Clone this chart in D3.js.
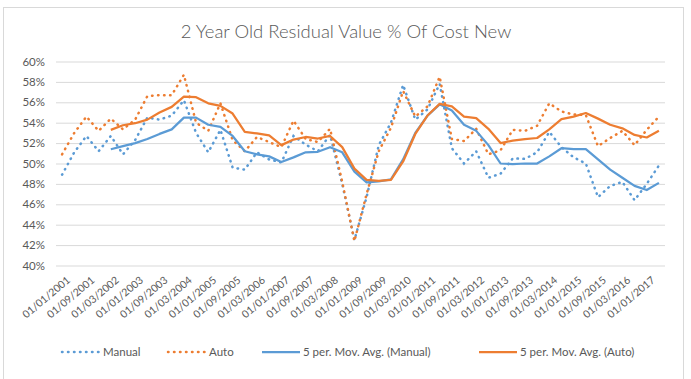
<!DOCTYPE html>
<html>
<head>
<meta charset="utf-8">
<script src="https://cdn.jsdelivr.net/npm/d3@7"></script>
<style>
  body { margin: 0; background: #fff; }
  text { font-family: Lato, "Open Sans", sans-serif; fill: #595959; }
</style>
</head>
<body>
<script>
var w = 691,
    h = 379;

// categories (UK plate change dates: Jan, Mar, Sep)
var dates = [
  "01/01/2001","01/03/2001","01/09/2001","01/01/2002","01/03/2002","01/09/2002",
  "01/01/2003","01/03/2003","01/09/2003","01/01/2004","01/03/2004","01/09/2004",
  "01/01/2005","01/03/2005","01/09/2005","01/01/2006","01/03/2006","01/09/2006",
  "01/01/2007","01/03/2007","01/09/2007","01/01/2008","01/03/2008","01/09/2008",
  "01/01/2009","01/03/2009","01/09/2009","01/01/2010","01/03/2010","01/09/2010",
  "01/01/2011","01/03/2011","01/09/2011","01/01/2012","01/03/2012","01/09/2012",
  "01/01/2013","01/03/2013","01/09/2013","01/01/2014","01/03/2014","01/09/2014",
  "01/01/2015","01/03/2015","01/09/2015","01/01/2016","01/03/2016","01/09/2016",
  "01/01/2017","01/03/2017"
];

var manual = [
  48.9, 51.1, 52.7, 51.2, 52.7, 50.9, 52.3, 54.5, 54.3, 54.7,
  56.2, 53.0, 51.1, 53.3, 49.6, 49.4, 51.1, 50.4, 50.1, 52.7,
  51.85, 51.2, 52.8, 48.0, 42.5, 46.7, 51.8, 54.0, 57.7, 54.3,
  55.3, 57.8, 51.5, 50.0, 51.2, 48.6, 49.0, 50.5, 50.45, 51.1,
  53.1, 51.6, 50.6, 50.0, 46.7, 47.8, 48.2, 46.4, 48.0, 49.8
];

var auto = [
  50.9, 53.0, 54.6, 53.2, 54.4, 53.35, 54.3, 56.6, 56.7, 56.7,
  58.7, 54.0, 53.2, 55.9, 52.3, 51.2, 52.6, 52.1, 51.6, 54.2,
  52.4, 52.1, 53.4, 48.2, 42.4, 47.0, 51.2, 53.5, 57.1, 54.6,
  55.6, 58.5, 52.4, 52.2, 53.4, 50.9, 51.3, 53.3, 53.2, 53.7,
  55.9, 55.1, 54.8, 54.75, 51.7, 52.5, 53.2, 51.8, 53.3, 54.6
];

// 5 period moving average trendlines (start at 5th point)
var avgStart = 4;
var manualAvg = [
  51.4, 51.7, 52.0, 52.4, 52.9, 53.35, 54.5, 54.5, 53.8, 53.6,
  52.7, 51.2, 50.9, 50.7, 50.15, 50.6, 51.1, 51.15, 51.6, 51.1,
  49.2, 48.15, 48.25, 48.45, 50.4, 53.0, 54.7, 55.8, 55.2, 53.8,
  53.2, 51.8, 50.0, 49.95, 50.0, 50.0, 50.7, 51.5, 51.4, 51.4,
  50.4, 49.4, 48.6, 47.8, 47.4, 48.1
];
var autoAvg = [
  53.3, 53.75, 53.95, 54.3, 55.0, 55.55, 56.55, 56.5, 55.9, 55.65,
  54.9, 53.1, 52.95, 52.75, 51.8, 52.35, 52.6, 52.45, 52.7, 51.6,
  49.5, 48.4, 48.3, 48.4, 50.2, 52.9, 54.7, 55.85, 55.6, 54.6,
  54.45, 53.4, 52.0, 52.25, 52.4, 52.5, 53.35, 54.35, 54.6, 54.95,
  54.4, 53.8, 53.45, 52.8, 52.55, 53.2
];

var yTicks = [40, 42, 44, 46, 48, 50, 52, 54, 56, 58, 60];
var blue = "#5B9BD5",
    orange = "#ED7D31";

var svg = d3.select("body").append("svg")
    .attr("width", w)
    .attr("height", h);

// chart area border
svg.append("rect")
    .attr("x", 3.5).attr("y", 7.5)
    .attr("width", 680).attr("height", 380)
    .attr("fill", "#fff")
    .attr("stroke", "#d9d9d9");

svg.append("text")
    .attr("x", 346).attr("y", 38)
    .attr("text-anchor", "middle")
    .style("font-size", "18.5px")
    .style("font-weight", 300)
    .text("2 Year Old Residual Value % Of Cost New");

var x = d3.scalePoint()
    .domain(d3.range(dates.length))
    .range([56, 665])
    .padding(0.5);

var y = d3.scaleLinear()
    .domain([40, 60])
    .range([265.5, 61.5]);

// y axis + gridlines
var yAxis = svg.append("g")
    .attr("transform", "translate(56,0)")
    .call(d3.axisLeft(y)
        .tickValues(yTicks)
        .tickSize(-609)
        .tickPadding(11)
        .tickFormat(d => d + "%"));
yAxis.select(".domain").remove();
yAxis.selectAll("line").attr("stroke", "#d9d9d9");
yAxis.selectAll("text").style("font-size", "11.5px").style("font-family", "Lato, sans-serif").attr("fill", "#595959");

// x axis
var xAxis = svg.append("g")
    .attr("transform", "translate(0,265.5)")
    .call(d3.axisBottom(x)
        .tickValues(d3.range(0, dates.length, 2))
        .tickSize(0)
        .tickFormat(i => dates[i]));
xAxis.select(".domain").remove();
xAxis.selectAll("text")
    .style("font-size", "10.5px")
    .style("font-family", "Lato, sans-serif")
    .attr("fill", "#595959")
    .attr("text-anchor", "end")
    .attr("x", 0).attr("y", 0).attr("dy", "0.35em")
    .attr("transform", "translate(6,13) rotate(-40)");

var line = d3.line()
    .x((d, i) => x(i))
    .y(d => y(d));

var avgLine = d3.line()
    .x((d, i) => x(i + avgStart))
    .y(d => y(d));

svg.append("path").datum(manual)
    .attr("d", line)
    .attr("fill", "none").attr("stroke", blue)
    .attr("stroke-width", 2.5).attr("stroke-linecap", "round")
    .attr("stroke-dasharray", "0.5 5.5");

svg.append("path").datum(auto)
    .attr("d", line)
    .attr("fill", "none").attr("stroke", orange)
    .attr("stroke-width", 2.5).attr("stroke-linecap", "round")
    .attr("stroke-dasharray", "0.5 5.5");

svg.append("path").datum(manualAvg)
    .attr("d", avgLine)
    .attr("fill", "none").attr("stroke", blue)
    .attr("stroke-width", 2.25).attr("stroke-linejoin", "round");

svg.append("path").datum(autoAvg)
    .attr("d", avgLine)
    .attr("fill", "none").attr("stroke", orange)
    .attr("stroke-width", 2.25).attr("stroke-linejoin", "round");

// legend
var legendItems = [
    {name: "Manual", color: blue, dotted: true, x: 62},
    {name: "Auto", color: orange, dotted: true, x: 168},
    {name: "5 per. Mov. Avg. (Manual)", color: blue, dotted: false, x: 262},
    {name: "5 per. Mov. Avg. (Auto)", color: orange, dotted: false, x: 479}
];

var legend = svg.selectAll(".legend")
    .data(legendItems)
    .enter().append("g")
    .attr("class", "legend")
    .attr("transform", d => "translate(" + d.x + ",352)");

legend.append("line")
    .attr("x1", 0).attr("x2", 38)
    .attr("stroke", d => d.color)
    .attr("stroke-width", d => d.dotted ? 2.5 : 2.25)
    .attr("stroke-linecap", d => d.dotted ? "round" : "butt")
    .attr("stroke-dasharray", d => d.dotted ? "0.5 5.5" : null);

legend.append("text")
    .attr("x", 41).attr("dy", "0.35em")
    .style("font-size", "11.5px")
    .text(d => d.name);
</script>
</body>
</html>
